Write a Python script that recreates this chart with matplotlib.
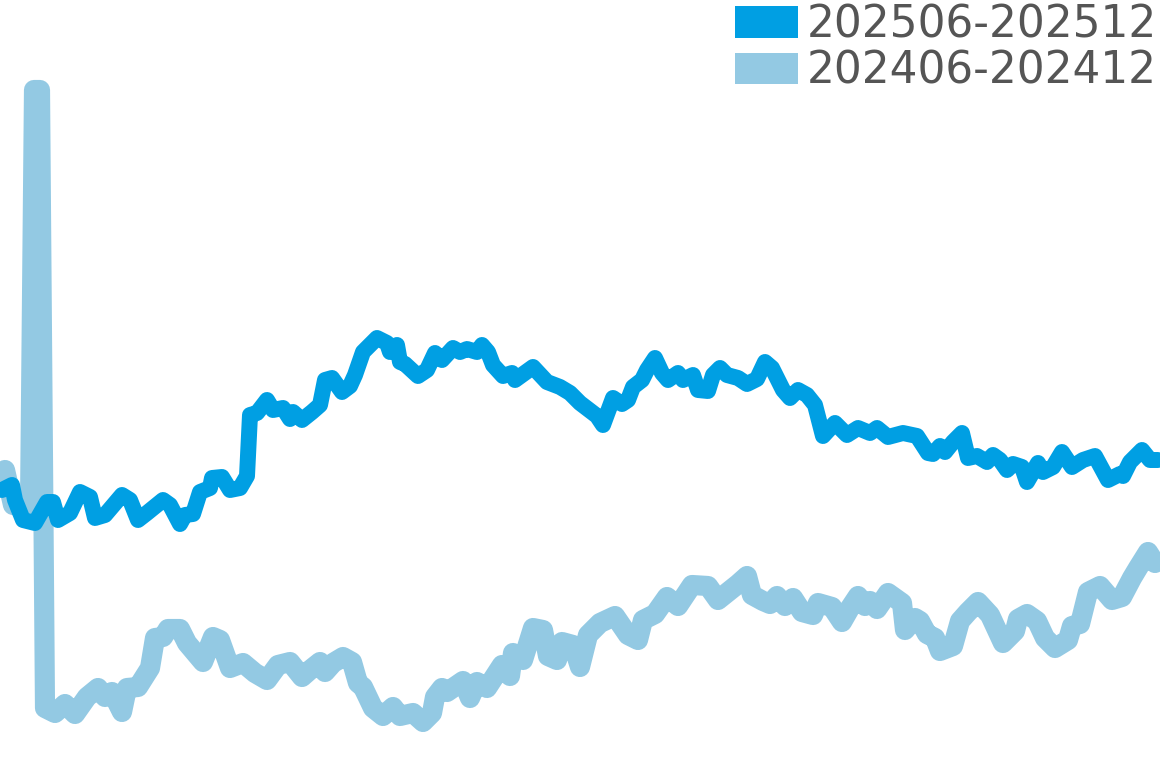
import matplotlib
matplotlib.use("Agg")
import matplotlib.pyplot as plt
from matplotlib.patches import Patch

# Series 202506-202512 (position, index level)
pos_2025 = [2, 12, 15, 23, 35, 47, 53, 58, 70, 80, 90, 95, 105, 122, 130, 138, 147, 163, 170, 180,
            185, 193, 200, 210, 212, 222, 230, 240, 247, 250, 257, 267, 273, 283, 290, 293, 302, 312,
            320, 325, 332, 342, 350, 355, 363, 377, 387, 390, 397, 400, 405, 418, 427, 435, 442, 453,
            460, 467, 477, 482, 488, 493, 503, 512, 515, 533, 547, 560, 570, 580, 597, 603, 613, 622,
            628, 633, 642, 647, 655, 662, 668, 678, 683, 693, 698, 708, 713, 720, 727, 738, 747, 757,
            765, 772, 783, 790, 798, 807, 815, 823, 835, 847, 858, 870, 877, 888, 903, 917, 928, 933,
            940, 945, 953, 962, 968, 977, 987, 993, 1000, 1007, 1013, 1022, 1027, 1038, 1043, 1053,
            1062, 1072, 1083, 1095, 1108, 1120, 1123, 1130, 1142, 1150, 1158]
val_2025 = [278, 283, 268, 248, 245, 266, 266, 248, 255, 276, 271, 250, 253, 273, 268, 248, 255, 268, 263, 244,
            253, 254, 276, 280, 290, 291, 278, 280, 292, 353, 355, 368, 358, 360, 349, 356, 348, 356,
            363, 388, 390, 376, 382, 393, 416, 430, 425, 416, 423, 406, 404, 392, 398, 415, 408, 420,
            416, 419, 416, 423, 416, 403, 392, 395, 388, 401, 386, 381, 375, 365, 352, 343, 370, 364,
            368, 381, 388, 398, 410, 395, 388, 395, 388, 393, 378, 377, 393, 400, 393, 390, 384, 389,
            406, 400, 378, 370, 378, 373, 363, 332, 345, 333, 340, 335, 340, 331, 335, 332, 315, 314,
            322, 316, 326, 335, 310, 312, 306, 313, 308, 298, 304, 301, 286, 305, 296, 301,
            316, 301, 308, 312, 288, 294, 292, 306, 318, 308, 308]

# Series 202406-202412 (position, index level)
pos_2024 = [5, 13, 30, 34, 40, 45, 55, 65, 75, 87, 98, 105, 112, 122, 127, 138, 150, 155, 163, 168,
            180, 187, 203, 213, 220, 230, 243, 255, 267, 278, 290, 302, 310, 320, 325, 333, 343, 352,
            358, 363, 373, 383, 393, 400, 413, 423, 432, 435, 442, 447, 463, 470, 477, 487, 502, 510,
            513, 523, 533, 543, 548, 557, 562, 573, 580, 588, 600, 615, 628, 638, 643, 655, 667, 678,
            692, 708, 718, 738, 747, 752, 763, 770, 777, 785, 793, 802, 813, 818, 832, 842, 850, 858,
            865, 870, 877, 888, 902, 905, 915, 920, 927, 935, 940, 953, 960, 968, 978, 990, 1003, 1015,
            1018, 1027, 1037, 1045, 1055, 1068, 1072, 1080, 1088, 1100, 1112, 1122, 1132, 1138, 1148, 1155]
val_2024 = [298, 263, 260, 678, 678, 60, 55, 64, 54, 71, 80, 71, 76, 56, 80, 81, 100, 130, 131, 139,
            139, 125, 106, 131, 128, 100, 105, 95, 88, 103, 106, 91, 98, 106, 96, 105, 111, 106,
            85, 81, 60, 52, 61, 52, 55, 46, 55, 71, 80, 76, 87, 70, 86, 80, 103, 92,
            115, 108, 140, 138, 112, 108, 126, 123, 101, 133, 145, 152, 133, 128, 148, 154, 171, 162,
            183, 182, 168, 184, 192, 173, 167, 164, 172, 162, 170, 156, 153, 165, 161, 146, 160, 172,
            162, 167, 159, 175, 165, 138, 150, 147, 134, 130, 117, 122, 147, 156, 166, 153, 125, 137,
            149, 154, 147, 130, 120, 128, 142, 144, 176, 182, 168, 171, 190, 200, 216, 205]

labels = ["202506-202512", "202406-202412"]
c_2025 = "#009fe3"
c_2024 = "#93c9e3"

fig = plt.figure(figsize=(11.6, 7.68), dpi=100)
ax = fig.add_axes([0, 0, 1, 1])
ax.plot(pos_2024, val_2024, color=c_2024, lw=14.5, solid_joinstyle="round", solid_capstyle="round")
ax.plot(pos_2025, val_2025, color=c_2025, lw=11.5, solid_joinstyle="round", solid_capstyle="round")
ax.set_xlim(0, 1160)
ax.set_ylim(0, 768)
ax.axis("off")

handles = [Patch(facecolor=c_2025, edgecolor="none"), Patch(facecolor=c_2024, edgecolor="none")]
fig.legend(handles, labels, loc="upper right", bbox_to_anchor=(1.0, 1.0),
           frameon=False, fontsize=31.5, labelcolor="#555555",
           handlelength=1.46, handleheight=0.73, handletextpad=0.18,
           labelspacing=0.08, borderpad=0.08, borderaxespad=0.0)

fig.savefig("out.png", dpi=100, facecolor="white")
